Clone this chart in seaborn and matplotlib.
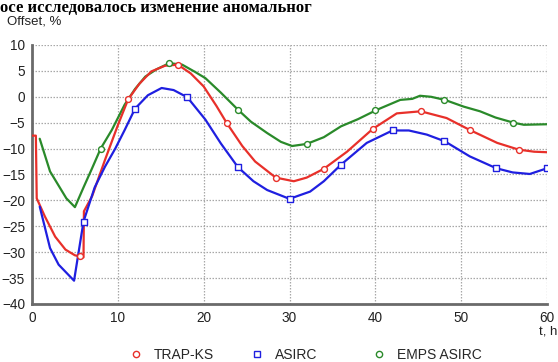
import numpy as np
import pandas as pd
import matplotlib
matplotlib.use("Agg")
import matplotlib.pyplot as plt
from matplotlib.lines import Line2D
from matplotlib.ticker import MultipleLocator
import seaborn as sns

# ---------------- data ----------------
trap_t = [0, 0.45, 0.55, 1.5, 2.7, 3.9, 5.0, 5.6, 6.0, 6.05, 7.0, 8.5, 10.0, 11.2,
          12.5, 13.9, 15.5, 17.0, 18.5, 20.0, 21.5, 22.7, 24.5, 26.0, 28.4, 30.5,
          32.0, 34.0, 36.7, 39.7, 42.5, 45.3, 48.3, 51.0, 54.2, 56.7, 58.5, 60]
trap_y = [-7.5, -7.5, -19.6, -23.1, -27.0, -29.5, -30.6, -30.8, -31.0, -22.1, -19.2,
          -12.2, -5.5, -0.5, 2.5, 4.9, 6.0, 6.2, 4.5, 2.0, -1.8, -5.1, -9.5, -12.5,
          -15.6, -16.3, -15.6, -13.9, -10.6, -6.2, -3.2, -2.8, -4.1, -6.4, -8.9,
          -10.2, -10.6, -10.7]

asirc_t = [0.9, 2.1, 3.1, 4.9, 6.0, 7.3, 8.5, 9.7, 10.8, 12.0, 13.5, 15.1, 16.5,
           18.1, 20.2, 22.0, 24.0, 25.8, 27.4, 30.0, 32.4, 34.0, 36.0, 39.0, 42.0,
           43.9, 46.0, 48.1, 51.0, 54.1, 56.0, 58.0, 60]
asirc_y = [-21.2, -29.2, -32.4, -35.5, -24.1, -17.5, -13.5, -10.0, -6.4, -2.3, 0.3,
           1.7, 1.3, -0.1, -4.4, -9.0, -13.6, -16.3, -18.0, -19.7, -18.3, -16.3,
           -13.1, -8.9, -6.5, -6.5, -7.3, -8.6, -11.5, -13.8, -14.6, -14.9, -13.8]

emps_t = [0.9, 2.1, 4.0, 5.0, 6.0, 7.0, 8.0, 9.3, 10.8, 12.0, 13.2, 14.5, 16.0, 17.5,
          19.0, 20.2, 22.0, 24.0, 25.5, 27.4, 29.0, 30.3, 32.0, 34.0, 36.0, 38.0,
          40.2, 42.9, 44.3, 45.2, 46.5, 48.1, 50.3, 52.2, 54.0, 56.1, 57.3, 60]
emps_y = [-8.1, -14.4, -19.6, -21.3, -17.5, -13.8, -10.0, -6.4, -1.5, 1.5, 3.9, 5.3,
          6.5, 6.2, 4.8, 3.6, 0.8, -2.5, -4.8, -7.0, -8.7, -9.5, -9.1, -7.8, -5.7,
          -4.3, -2.5, -0.6, -0.4, 0.2, 0.0, -0.6, -1.9, -2.8, -4.0, -5.0, -5.4, -5.3]

# marker points
trap_mt = [5.6, 11.2, 17.0, 22.7, 28.4, 34.0, 39.7, 45.3, 51.0, 56.7]
trap_my = [-30.8, -0.5, 6.2, -5.1, -15.6, -13.9, -6.2, -2.8, -6.4, -10.2]
asirc_mt = [6, 12, 18, 24, 30, 36, 42, 48, 54, 60]
asirc_my = [-24.1, -2.3, -0.1, -13.6, -19.7, -13.1, -6.5, -8.6, -13.8, -13.8]
emps_mt = [8, 16, 24, 32, 40, 48, 56]
emps_my = [-10.0, 6.5, -2.5, -9.1, -2.5, -0.6, -5.0]

series_names = ["TRAP-KS", "ASIRC", "EMPS ASIRC"]
x_ticks = [0, 10, 20, 30, 40, 50, 60]
y_ticks = [10, 5, 0, -5, -10, -15, -20, -25, -30, -35, -40]

colors = {"TRAP-KS": "#e8302a", "ASIRC": "#1f1fe0", "EMPS ASIRC": "#2a8a2a"}
mk = {"TRAP-KS": "o", "ASIRC": "s", "EMPS ASIRC": "o"}

# ---------------- figure ----------------
sns.set_style("white")
plt.rcParams["font.family"] = ["Liberation Sans", "DejaVu Sans"]

fig = plt.figure(figsize=(5.58, 3.62), dpi=100)
ax = fig.add_axes([32 / 558, 58 / 362, 515 / 558, 259 / 362])

lines = {
    "TRAP-KS": (trap_t, trap_y, trap_mt, trap_my),
    "ASIRC": (asirc_t, asirc_y, asirc_mt, asirc_my),
    "EMPS ASIRC": (emps_t, emps_y, emps_mt, emps_my),
}

for name in ["EMPS ASIRC", "TRAP-KS", "ASIRC"]:
    t, y, mt, my = lines[name]
    df = pd.DataFrame({"t": t, "y": y})
    sns.lineplot(data=df, x="t", y="y", sort=False, estimator=None, ax=ax,
                 color=colors[name], linewidth=1.6, zorder=3)
for name in series_names:
    t, y, mt, my = lines[name]
    dm = pd.DataFrame({"t": mt, "y": my})
    sns.scatterplot(data=dm, x="t", y="y", ax=ax, marker=mk[name], s=18,
                    facecolor="white", edgecolor=colors[name], linewidth=1.0,
                    zorder=4)

ax.set_xlim(0, 60)
ax.set_ylim(-40, 10)
ax.set_xticks(x_ticks)
ax.set_yticks(y_ticks)
ax.xaxis.set_minor_locator(MultipleLocator(1))
ax.set_xlabel("")
ax.set_ylabel("")
ax.grid(True, which="major", color="#a8a8a8", linestyle=(0, (1.2, 1.2)),
        linewidth=0.9, zorder=0)
for s in ["top", "right"]:
    ax.spines[s].set_visible(False)
for s in ["left", "bottom"]:
    ax.spines[s].set_color("#6a6a6a")
    ax.spines[s].set_linewidth(2.0)
ax.tick_params(axis="both", which="major", labelsize=9.8, colors="#333333",
               length=3, width=1, pad=2, labelcolor="#222222")
ax.tick_params(axis="x", which="minor", length=2, width=0.6, colors="#777777")
ax.set_axisbelow(True)

fig.text(7 / 558, 1 - 24 / 362, "Offset, %", fontsize=9.5, color="#222222",
         va="baseline", ha="left")
fig.text(557 / 558, 1 - 334 / 362, "t, h", fontsize=9.5, color="#222222",
         va="baseline", ha="right")

# heading fragment at the very top
fig.text(0.0, 1.0, "осе исследовалось изменение аномальног",
         fontsize=12, fontweight="bold", family=["Liberation Serif", "DejaVu Serif"],
         va="top", ha="left", color="black")

# legend entries placed individually
leg_x = [130 / 558, 251 / 558, 373 / 558]
for name, lx in zip(series_names, leg_x):
    h = Line2D([], [], linestyle="none", marker=mk[name], markersize=4.5,
               markerfacecolor="white", markeredgecolor=colors[name],
               markeredgewidth=1.0, label=name)
    fig.legend(handles=[h], loc="center left", bbox_to_anchor=(lx, 1 - 355 / 362),
               frameon=False, fontsize=10, handletextpad=0.9, handlelength=0.8,
               borderpad=0, borderaxespad=0)

fig.savefig("out.png", dpi=100)
